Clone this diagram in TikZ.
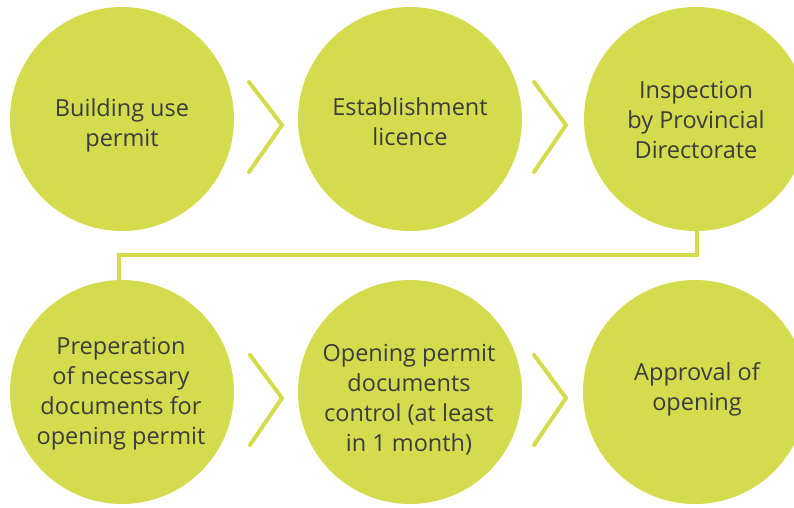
\documentclass[tikz,border=0pt]{standalone}
\usepackage{fontspec}
\setmainfont{Open Sans}
\definecolor{lime}{RGB}{212,220,78}
\definecolor{ink}{RGB}{60,60,60}
\tikzset{
  stage/.style={circle,fill=lime,draw=none,minimum size=224pt,inner sep=0pt},
  stagetext/.style={text=ink,align=center,font=\fontsize{23.5}{30}\selectfont,inner sep=0pt},
  chevron/.style={draw=lime,line width=4pt,line cap=round,line join=miter},
  link/.style={draw=lime,line width=4pt}
}
\begin{document}
\begin{tikzpicture}[x=1pt,y=-1pt]
\useasboundingbox (0,0) rectangle (794,507);
\clip (0,0) rectangle (794,507);

% process stages
\node[stage] (c1) at (122,119) {};
\node[stage] (c2) at (410,119) {};
\node[stage] (c3) at (696,119) {};
\node[stage] (c4) at (122,392) {};
\node[stage] (c5) at (410,392) {};
\node[stage] (c6) at (695,392) {};

% stage labels
\node[stagetext] (t1) at (122,125) {Building use\\permit};
\node[stagetext] (t2) at (410,122) {Establishment\\licence};
\node[stagetext] (t3) at (696,120) {Inspection\\by Provincial\\Directorate};
\node[stagetext] (t4) at (121,394) {Preperation\\of necessary\\documents for\\opening permit};
\node[stagetext] (t5) at (409,400) {Opening permit\\documents\\control (at least\\in 1 month)};
\node[stagetext] (t6) at (697,389) {Approval of\\opening};

% chevrons between stages
\draw[chevron] (249,82) -- (282,125) -- (249,172);
\draw[chevron] (534,82) -- (566,125) -- (534,172);
\draw[chevron] (250,355) -- (282,398) -- (250,445);
\draw[chevron] (534,355) -- (566,398) -- (534,445);

% link from the first row to the second
\coordinate (k1) at (697,255);
\coordinate (k2) at (119,255);
\draw[link] (c3.south -| k1) -- (k1) -- (k2) -- (k2 |- c4.north);
\end{tikzpicture}
\end{document}
